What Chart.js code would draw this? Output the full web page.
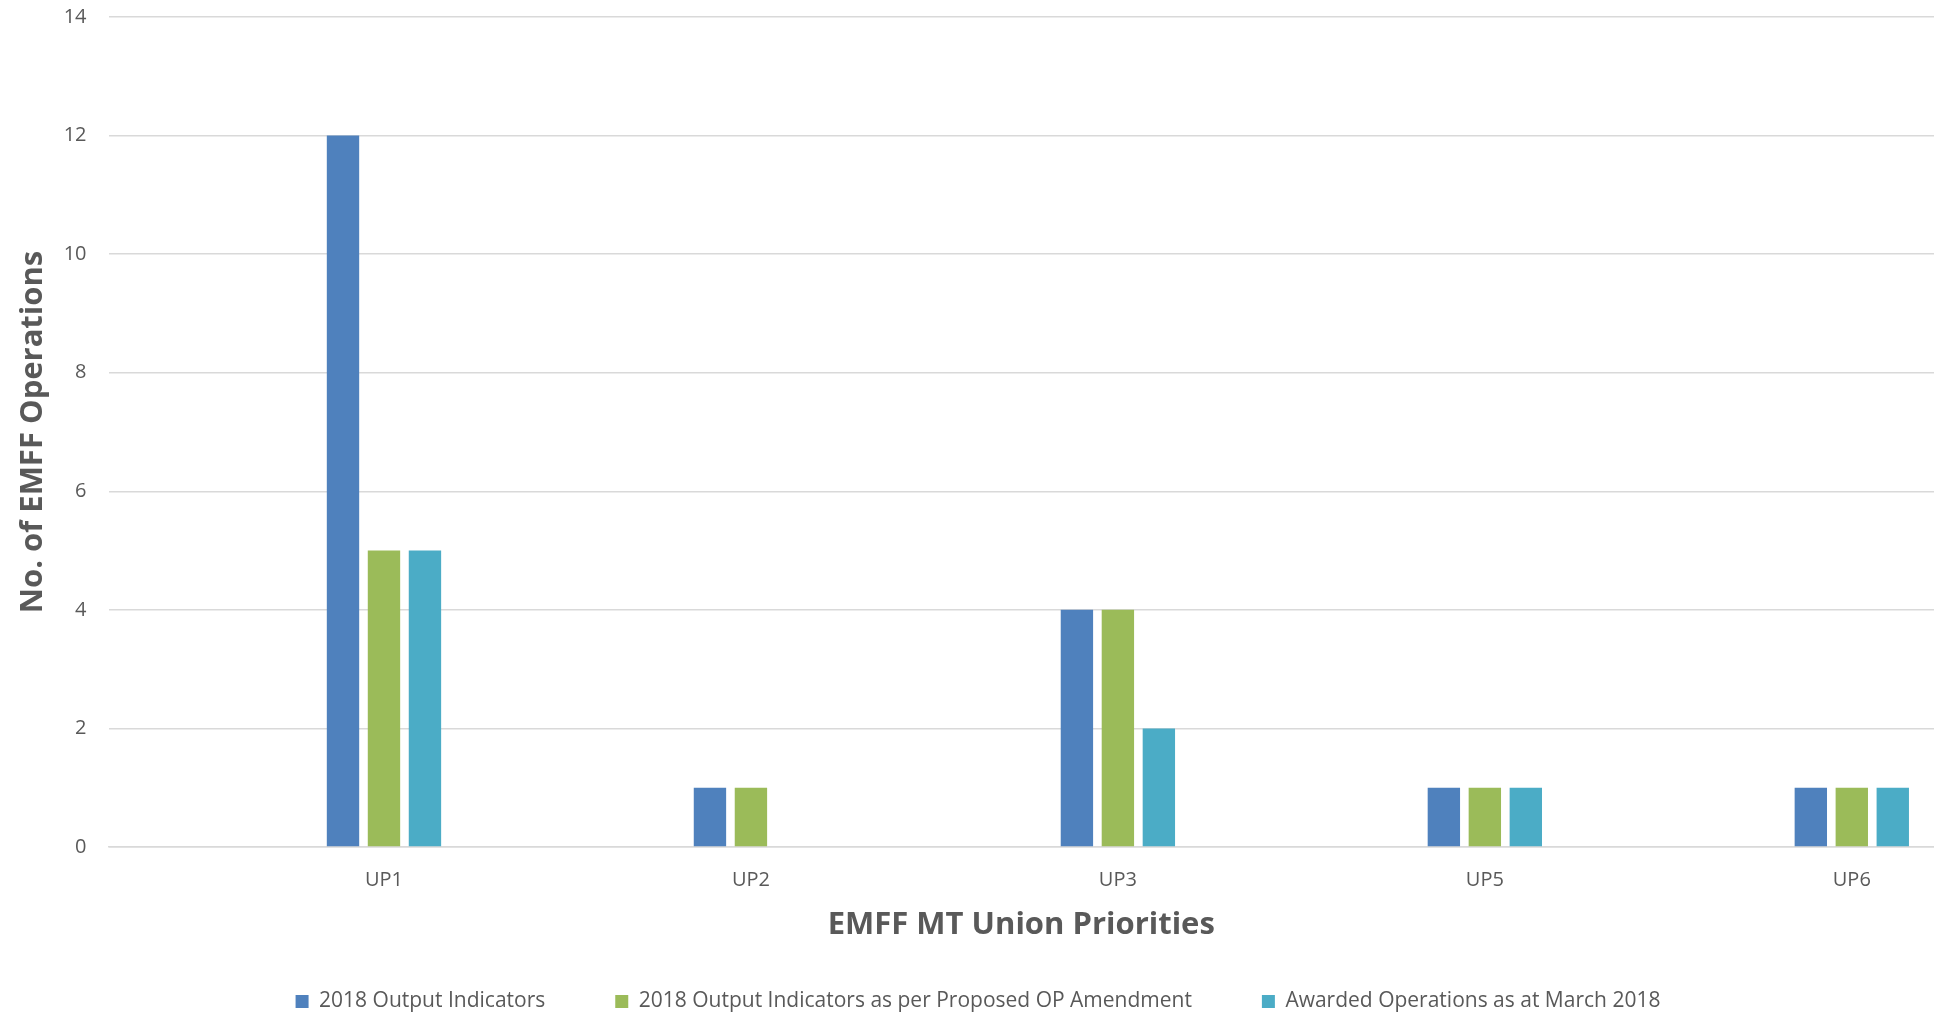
<!DOCTYPE html>
<html>
<head>
<meta charset="utf-8">
<script src="https://cdn.jsdelivr.net/npm/chart.js@4"></script>
<style>
html,body{margin:0;padding:0;background:#fff;overflow:hidden;}
#wrap{position:relative;width:1934px;height:1022px;}
</style>
</head>
<body>
<div id="wrap"><canvas id="c"></canvas></div>
<script>
const categories = ['UP1', 'UP2', 'UP3', 'UP5', 'UP6'];
const seriesNames = ['2018 Output Indicators', '2018 Output Indicators as per Proposed OP Amendment', 'Awarded Operations as at March 2018'];
const outputIndicators = [12, 1, 4, 1, 1];
const proposedAmendment = [5, 1, 4, 1, 1];
const awardedOperations = [5, 0, 2, 1, 1];
const yTicks = [0, 2, 4, 6, 8, 10, 12, 14];
const colors = ['#4F81BD', '#9BBB59', '#4BACC6'];

const textColor = '#595959';
const fontFamily = '"Open Sans", Lato, sans-serif';

function toPoints(arr) { return arr.map((v, i) => ({ x: i, y: v })); }

const seriesValues = [outputIndicators, proposedAmendment, awardedOperations];
const datasets = seriesValues.map((vals, k) => ({
  label: seriesNames[k],
  data: toPoints(vals),
  backgroundColor: colors[k],
  borderWidth: 0,
  categoryPercentage: 0.335,
  barPercentage: 0.79
}));

const legendShift = {
  id: 'legendShift',
  afterLayout(chart) {
    if (chart.legend) { chart.legend.left += 11; chart.legend.right += 11; }
  }
};

new Chart(document.getElementById('c'), {
  type: 'bar',
  data: { datasets },
  plugins: [legendShift],
  options: {
    responsive: true,
    maintainAspectRatio: false,
    animation: false,
    layout: { padding: { top: 17, right: 0, left: 0, bottom: 0 } },
    plugins: {
      tooltip: { enabled: false },
      legend: {
        position: 'bottom',
        labels: {
          color: textColor,
          font: { family: fontFamily, size: 21 },
          boxWidth: 13,
          boxHeight: 13,
          padding: 70
        }
      }
    },
    scales: {
      x: {
        type: 'linear',
        offset: false,
        min: -0.7507,
        max: 4.224,
        grid: { display: false, drawTicks: false, offset: false },
        border: { display: true, color: '#d9d9d9', width: 1.5 },
        ticks: {
          stepSize: 1,
          includeBounds: false,
          autoSkip: false,
          maxRotation: 0,
          padding: 21,
          color: textColor,
          font: { family: fontFamily, size: 20 },
          callback: (v) => Number.isInteger(v) && categories[v] !== undefined ? categories[v] : null
        },
        title: {
          display: true,
          text: 'EMFF MT Union Priorities',
          color: textColor,
          font: { family: fontFamily, size: 31, weight: 'bold' },
          padding: { top: 13, bottom: -22.5 }
        },
        afterFit: (s) => { s.height = 74; s.paddingLeft = 0; s.paddingRight = 0; }
      },
      y: {
        min: 0,
        max: 14,
        afterBuildTicks: (s) => { s.ticks = yTicks.map(v => ({ value: v })); },
        grid: { color: '#d9d9d9', lineWidth: 1.5, drawTicks: false },
        border: { display: false },
        ticks: {
          padding: 22,
          color: textColor,
          font: { family: fontFamily, size: 20 }
        },
        title: {
          display: true,
          text: 'No. of EMFF Operations',
          color: textColor,
          font: { family: fontFamily, size: 31, weight: 'bold' },
          padding: { top: 14.4, bottom: 13 }
        },
        afterFit: (s) => { s.width = 108.5; s.paddingTop = 0; s.paddingBottom = 0; }
      }
    }
  }
});
</script>
</body>
</html>
